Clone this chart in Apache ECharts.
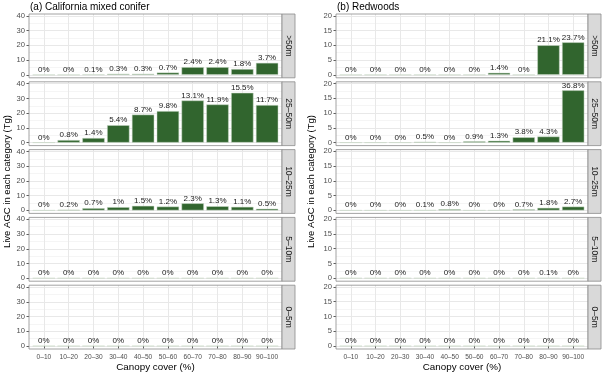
<!DOCTYPE html>
<html><head><meta charset="utf-8">
<script src="https://cdn.jsdelivr.net/npm/echarts@6/dist/echarts.min.js"></script>
<style>html,body{margin:0;padding:0;background:#fff}#c{width:602px;height:375px}</style>
</head><body><div id="c"></div>
<script>
const categories = ['0–10','10–20','20–30','30–40','40–50','50–60','60–70','70–80','80–90','90–100'];
const heightClasses = ['>50m','25–50m','10–25m','5–10m','0–5m'];
const panelTitles = ['(a) California mixed conifer','(b) Redwoods'];
const yTitle = 'Live AGC in each category (Tg)';
const xTitle = 'Canopy cover (%)';

// (a) California mixed conifer — live AGC (Tg)
const coniferGt50   = [0, 0, 0.22, 0.65, 0.65, 1.5, 5.2, 5.2, 3.9, 8.1];
const conifer25to50 = [0, 1.7, 3.1, 11.8, 19.0, 21.4, 28.6, 25.9, 33.8, 25.5];
const conifer10to25 = [0, 0.44, 1.5, 2.2, 3.1, 2.6, 4.8, 2.8, 2.4, 1.1];
const conifer5to10  = [0, 0, 0, 0, 0, 0, 0, 0, 0, 0];
const conifer0to5   = [0, 0, 0, 0, 0, 0, 0, 0, 0, 0];
// percent labels
const coniferGt50Pct   = [0, 0, 0.1, 0.3, 0.3, 0.7, 2.4, 2.4, 1.8, 3.7];
const conifer25to50Pct = [0, 0.8, 1.4, 5.4, 8.7, 9.8, 13.1, 11.9, 15.5, 11.7];
const conifer10to25Pct = [0, 0.2, 0.7, 1, 1.5, 1.2, 2.3, 1.3, 1.1, 0.5];
const conifer5to10Pct  = [0, 0, 0, 0, 0, 0, 0, 0, 0, 0];
const conifer0to5Pct   = [0, 0, 0, 0, 0, 0, 0, 0, 0, 0];

// (b) Redwoods — live AGC (Tg)
const redwoodGt50   = [0, 0, 0, 0, 0, 0, 0.67, 0, 10.0, 11.0];
const redwood25to50 = [0, 0, 0, 0.24, 0, 0.43, 0.62, 1.8, 2.05, 17.7];
const redwood10to25 = [0, 0, 0, 0.05, 0.38, 0, 0, 0.33, 0.86, 1.28];
const redwood5to10  = [0, 0, 0, 0, 0, 0, 0, 0, 0.05, 0];
const redwood0to5   = [0, 0, 0, 0, 0, 0, 0, 0, 0, 0];
const redwoodGt50Pct   = [0, 0, 0, 0, 0, 0, 1.4, 0, 21.1, 23.7];
const redwood25to50Pct = [0, 0, 0, 0.5, 0, 0.9, 1.3, 3.8, 4.3, 36.8];
const redwood10to25Pct = [0, 0, 0, 0.1, 0.8, 0, 0, 0.7, 1.8, 2.7];
const redwood5to10Pct  = [0, 0, 0, 0, 0, 0, 0, 0, 0.1, 0];
const redwood0to5Pct   = [0, 0, 0, 0, 0, 0, 0, 0, 0, 0];

const coniferTicks = [0, 10, 20, 30, 40];
const redwoodTicks = [0, 5, 10, 15, 20];

const columns = [
  { title: panelTitles[0], values: [coniferGt50, conifer25to50, conifer10to25, conifer5to10, conifer0to5],
    pct: [coniferGt50Pct, conifer25to50Pct, conifer10to25Pct, conifer5to10Pct, conifer0to5Pct],
    ticks: coniferTicks, max: 41.3, interval: 10, x0: 29, x1: 282, yTitleGap: 22 },
  { title: panelTitles[1], values: [redwoodGt50, redwood25to50, redwood10to25, redwood5to10, redwood0to5],
    pct: [redwoodGt50Pct, redwood25to50Pct, redwood10to25Pct, redwood5to10Pct, redwood0to5Pct],
    ticks: redwoodTicks, max: 20.6, interval: 5, x0: 336, x1: 588, yTitleGap: 25 }
];

const FONT = '"Liberation Sans", Arial, Helvetica, sans-serif';
const TOP0 = 14, ROWH = 63.8, STEP = 67.8, EXPAND = 3, STRIPW = 13;
const BORDER = '#8c8c8c';

const grid = [], xAxis = [], yAxis = [], series = [], graphic = [];

columns.forEach((col, ci) => {
  const W = col.x1 - col.x0;
  const inset = 0.1 * W / 10.2;
  heightClasses.forEach((hc, ri) => {
    const top = TOP0 + ri * STEP;
    const h = ROWH - EXPAND;
    const bottomRow = ri === heightClasses.length - 1;
    const bg = grid.length;
    grid.push({ left: col.x0, top: top, width: W, height: h, containLabel: false });
    xAxis.push({ type: 'value', gridIndex: bg, min: 0, max: 1, show: false });
    yAxis.push({
      type: 'value', gridIndex: bg, min: 0, max: col.max, interval: col.interval,
      axisLine: { show: false },
      axisTick: { show: true, length: 2.5, lineStyle: { color: '#333', width: 0.8 }, customValues: col.ticks },
      axisLabel: { fontSize: 7.6, color: '#4d4d4d', margin: 4, fontFamily: FONT, customValues: col.ticks,
        showMaxLabel: true, showMinLabel: true,
        formatter: v => (col.ticks.indexOf(v) >= 0 ? String(v) : '') },
      splitLine: { show: true, lineStyle: { color: '#e8e8e8', width: 1 } },
      minorTick: { show: false, splitNumber: 2 },
      minorSplitLine: { show: true, lineStyle: { color: '#f3f3f3', width: 0.8 } }
    });
    const fg = grid.length;
    grid.push({ left: col.x0 + inset, top: top, width: W - 2 * inset, height: h, containLabel: false });
    xAxis.push({
      type: 'category', gridIndex: fg, data: categories, boundaryGap: true, offset: EXPAND,
      axisLine: { show: false },
      axisTick: { show: bottomRow, alignWithLabel: true, length: 2.5, lineStyle: { color: '#333', width: 0.8 } },
      axisLabel: { show: bottomRow, interval: 0, fontSize: 6.6, color: '#4d4d4d', margin: 4.5, fontFamily: FONT },
      splitLine: { show: true, alignWithLabel: true, interval: 0, lineStyle: { color: '#e8e8e8', width: 1 } }
    });
    yAxis.push({ type: 'value', gridIndex: fg, min: 0, max: col.max, show: false });
    const pct = col.pct[ri];
    series.push({
      type: 'bar', xAxisIndex: fg, yAxisIndex: fg, data: col.values[ri],
      barCategoryGap: '10%',
      itemStyle: { color: '#31652e', borderColor: '#c9d8c6', borderWidth: 0.5 },
      label: { show: true, position: 'top', distance: 1, fontSize: 8, color: '#1a1a1a', fontFamily: FONT,
        formatter: p => pct[p.dataIndex] + '%' },
      silent: true, animation: false
    });
    graphic.push({ type: 'rect', z: 100, silent: true,
      shape: { x: col.x0, y: top, width: W, height: ROWH },
      style: { fill: 'none', stroke: BORDER, lineWidth: 0.8 } });
    graphic.push({ type: 'rect', z: 100, silent: true,
      shape: { x: col.x1, y: top, width: STRIPW, height: ROWH },
      style: { fill: '#d9d9d9', stroke: BORDER, lineWidth: 0.8 } });
    graphic.push({ type: 'text', z: 101, silent: true,
      x: col.x1 + STRIPW / 2, y: top + ROWH / 2, rotation: -Math.PI / 2,
      style: { text: hc, x: 0, y: 0, align: 'center', verticalAlign: 'middle',
        font: '8.5px ' + FONT, fill: '#1a1a1a' } });
  });
  graphic.push({ type: 'text', z: 101, silent: true,
    style: { text: col.title, x: col.x0 + 1, y: 7, align: 'left', verticalAlign: 'middle',
      font: '10px ' + FONT, fill: '#000' } });
  graphic.push({ type: 'text', z: 101, silent: true,
    x: col.x0 - col.yTitleGap, y: (TOP0 + TOP0 + 4 * STEP + ROWH) / 2, rotation: Math.PI / 2,
    style: { text: yTitle, x: 0, y: 0, align: 'center', verticalAlign: 'middle',
      font: '9.5px ' + FONT, fill: '#000' } });
  graphic.push({ type: 'text', z: 101, silent: true,
    style: { text: xTitle, x: (col.x0 + col.x1) / 2, y: 367, align: 'center', verticalAlign: 'middle',
      font: '9.8px ' + FONT, fill: '#000' } });
});

const chart = echarts.init(document.getElementById('c'), null, { renderer: 'canvas' });
chart.setOption({ animation: false, backgroundColor: '#fff', grid, xAxis, yAxis, series, graphic });
</script></body></html>
